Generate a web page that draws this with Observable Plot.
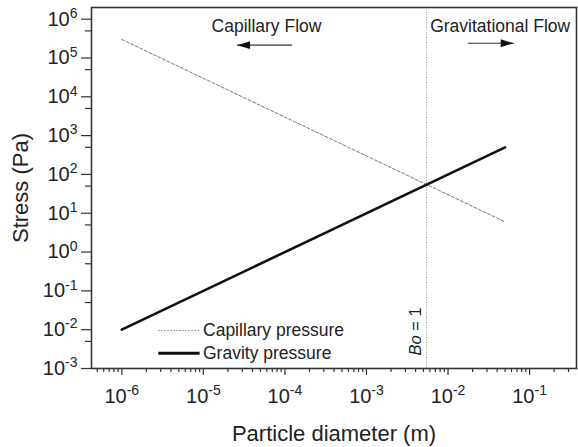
<!DOCTYPE html>
<html><head><meta charset="utf-8">
<script src="https://cdn.jsdelivr.net/npm/d3@7"></script>
<script src="https://cdn.jsdelivr.net/npm/@observablehq/plot@0.6"></script>
<style>
html,body{margin:0;padding:0;background:#fff;}
#chart svg{display:block;}
</style></head><body><div id="chart"></div>
<script>
// ---- data ----
const diameters = [1e-6, 5e-2];               // particle diameter (m), line ends
const capillaryPressure = [3.0e5, 6.0];       // Pa
const gravityPressure = [1e-2, 500];          // Pa
const boundaryDiameter = [5.45e-3];           // Bo = 1
const boundaryLabel = "Bo = 1";
const boundaryLabelPos = [3.98e-3, 2.16e-3];

const majorXTicks = [1e-6, 1e-5, 1e-4, 1e-3, 1e-2, 1e-1];
const majorYTicks = [1e-3, 1e-2, 1e-1, 1e0, 1e1, 1e2, 1e3, 1e4, 1e5, 1e6];
const minorYTicks = [5e-3, 5e-2, 5e-1, 5e0, 5e1, 5e2, 5e3, 5e4, 5e5];

const seriesNames = ["Capillary pressure", "Gravity pressure"];
const flowLabels = ["Capillary Flow", "Gravitational Flow"];
const flowLabelX = [5.94e-5, 0.0436];
const flowLabelY = [6.6e5, 6.6e5];
const flowArrowFrom = [1.22e-4, 0.0174];
const flowArrowTo = [2.59e-5, 0.0638];
const flowArrowY = [2.14e5, 2.4e5];

const legendSampleX = [2.8e-6, 9.0e-6];
const legendTextX = 9.9e-6;
const legendRowY = [9.55e-3, 2.48e-3];

// ---- derived tables ----
const capRows = diameters.map((d, i) => ({d, p: capillaryPressure[i]}));
const gravRows = diameters.map((d, i) => ({d, p: gravityPressure[i]}));
const flowRows = flowLabels.map((t, i) => ({t, x: flowLabelX[i], y: flowLabelY[i]}));
const arrowRows = flowArrowFrom.map((x1, i) => ({x1, x2: flowArrowTo[i], y: flowArrowY[i]}));
const legendRows = seriesNames.map((name, i) => ({name, x1: legendSampleX[0], x2: legendSampleX[1], tx: legendTextX, y: legendRowY[i]}));

const xDomain = [4.25e-7, 0.376];
const minorXTicks = d3.scaleLog().domain(xDomain).ticks()
  .filter(v => Math.abs(Math.log10(v) - Math.round(Math.log10(v))) > 1e-9);

const fmt = d => `10^${Math.round(Math.log10(d))}`;

const arrowHead = {
  draw(context, size) {
    const r = Math.sqrt(size / Math.PI);
    context.moveTo(0, 0);
    context.lineTo(-2.6 * r, -0.78 * r);
    context.lineTo(-2.6 * r, 0.78 * r);
    context.closePath();
  }
};

const axisColor = "#333";
const textColor = "#222";

const chart = Plot.plot({
  width: 578,
  height: 447,
  marginTop: 7,
  marginRight: 2,
  marginBottom: 79,
  marginLeft: 91,
  style: {fontFamily: "'Liberation Sans', Arial, sans-serif", fontSize: "20px", color: textColor, background: "#fff"},
  x: {type: "log", domain: xDomain},
  y: {type: "log", domain: [1e-3, 2e6]},
  marks: [
    Plot.ruleX(boundaryDiameter, {stroke: "#999", strokeWidth: 1, strokeDasharray: "1,1.5"}),
    Plot.line(capRows, {x: "d", y: "p", stroke: "#777", strokeWidth: 1, strokeDasharray: "3,2"}),
    Plot.line(gravRows, {x: "d", y: "p", stroke: "#111", strokeWidth: 2.6}),
    Plot.text([{t: boundaryLabel, x: boundaryLabelPos[0], y: boundaryLabelPos[1]}],
      {x: "x", y: "y", text: "t", rotate: -90, textAnchor: "start", lineAnchor: "middle", fontSize: 16.5, fill: textColor}),
    Plot.text(flowRows, {x: "x", y: "y", text: "t", fontSize: 17.5, fill: textColor, lineAnchor: "middle"}),
    Plot.link(arrowRows, {x1: "x1", x2: "x2", y1: "y", y2: "y", stroke: "#333", strokeWidth: 1.2}),
    Plot.dot(arrowRows, {x: "x2", y: "y", symbol: arrowHead, r: 5, fill: "#111", stroke: "none",
      rotate: d => d.x2 < d.x1 ? 180 : 0}),
    Plot.link(legendRows.slice(0, 1), {x1: "x1", x2: "x2", y1: "y", y2: "y", stroke: "#888", strokeWidth: 1, strokeDasharray: "1.5,1.5"}),
    Plot.link(legendRows.slice(1), {x1: "x1", x2: "x2", y1: "y", y2: "y", stroke: "#111", strokeWidth: 3}),
    Plot.text(legendRows, {x: "tx", y: "y", text: "name", textAnchor: "start", lineAnchor: "middle", fontSize: 17.5, fill: textColor}),
    Plot.axisX({ticks: minorXTicks, tickSize: 4, fill: "none", label: null, stroke: axisColor, strokeWidth: 1.2}),
    Plot.axisX({ticks: majorXTicks, tickSize: 7, tickPadding: 13, tickFormat: fmt, label: null, fontSize: 20, fill: textColor, stroke: axisColor, strokeWidth: 1.2}),
    Plot.axisX([], {label: "Particle diameter (m)", labelAnchor: "center", labelOffset: 72, labelArrow: "none", fontSize: 22, tickSize: 0, fill: textColor}),
    Plot.axisY({ticks: minorYTicks, tickSize: 6, fill: "none", label: null, stroke: axisColor, strokeWidth: 1.2}),
    Plot.axisY({ticks: majorYTicks, tickSize: 10, tickPadding: 4, tickFormat: fmt, label: null, fontSize: 20, fill: textColor, stroke: axisColor, strokeWidth: 1.2}),
    Plot.axisY([], {label: "Stress (Pa)", labelAnchor: "center", labelOffset: 79, labelArrow: "none", fontSize: 22, tickSize: 0, fill: textColor}),
    Plot.frame({stroke: axisColor, strokeWidth: 1.6})
  ]
});

// superscripts and italic symbol, kept as real text
const NS = "http://www.w3.org/2000/svg";
chart.querySelectorAll("text").forEach(t => {
  const m = /^10\^(-?\d+)$/.exec(t.textContent);
  if (m) {
    t.textContent = "10";
    const s = document.createElementNS(NS, "tspan");
    s.setAttribute("dy", "-0.55em");
    s.setAttribute("font-size", "14");
    s.textContent = m[1];
    t.appendChild(s);
  } else if (t.textContent === boundaryLabel) {
    t.textContent = "";
    const s = document.createElementNS(NS, "tspan");
    s.setAttribute("font-style", "italic");
    s.textContent = "Bo";
    t.appendChild(s);
    t.appendChild(document.createTextNode(" = 1"));
  }
});

document.getElementById("chart").appendChild(chart);
</script>
</body></html>
